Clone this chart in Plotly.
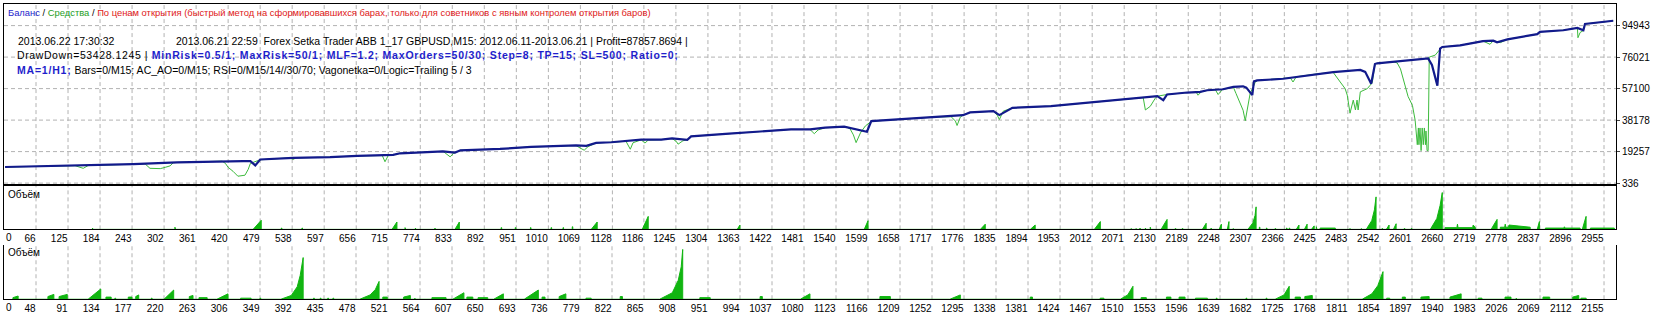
import plotly.graph_objects as go

# ---------------- data ----------------
# balance curve: trade number -> balance
bal_x = [9, 68, 171, 245, 326, 368, 448, 461, 470, 479, 540, 608, 658, 724, 737, 816, 838, 848,
         921, 978, 1021, 1061, 1080, 1098, 1126, 1153, 1181, 1218, 1238, 1266, 1273, 1343, 1415,
         1457, 1492, 1520, 1555, 1597, 1605, 1625, 1662, 1717, 1752, 1774, 1787, 1830, 1841, 1865,
         1936, 1979, 2027, 2106, 2132, 2143, 2150, 2187, 2211, 2224, 2253, 2272, 2290, 2296, 2307,
         2310, 2316, 2364, 2427, 2456, 2506, 2515, 2526, 2533, 2537, 2567, 2631, 2638, 2648, 2653,
         2657, 2690, 2732, 2751, 2758, 2777, 2832, 2837, 2880, 2906, 2917, 2920, 2948, 2972]
bal_y = [10000, 10390, 10980, 11750, 12750, 13170, 13520, 13520, 10980, 14530, 15530, 15890, 16720,
         17310, 18250, 19440, 18670, 20030, 20850, 22040, 22450, 23040, 22690, 24460, 24880, 25640,
         26410, 26410, 27240, 26350, 28420, 30020, 31620, 32620, 32620, 33630, 34220, 31200, 37590,
         38000, 38770, 39950, 40370, 41130, 42790, 43560, 41190, 45560, 46570, 47930, 49590, 51780,
         52550, 50180, 53550, 54740, 55150, 56100, 56690, 58110, 58460, 57690, 53140, 61420, 62010,
         63010, 65970, 66980, 68340, 67150, 60060, 71880, 72300, 73240, 75250, 71290, 58870, 81170,
         82110, 83110, 85660, 85900, 84890, 86670, 89800, 91220, 92160, 93580, 92160, 95950, 96890,
         97857]

# equity curve: trade number -> equity
eq_x = [9, 68, 138, 153, 162, 171, 245, 267, 276, 295, 304, 313, 319, 326, 368, 409, 415, 420, 429,
        438, 451, 457, 461, 475, 479, 534, 540, 545, 608, 658, 704, 709, 715, 724, 737, 816, 824,
        829, 835, 840, 848, 921, 978, 1021, 1061, 1069, 1076, 1083, 1098, 1126, 1153, 1161, 1166,
        1181, 1188, 1194, 1218, 1238, 1246, 1249, 1258, 1266, 1273, 1343, 1415, 1457, 1492, 1500,
        1507, 1520, 1559, 1566, 1572, 1577, 1585, 1594, 1605, 1625, 1662, 1717, 1752, 1760, 1763,
        1769, 1774, 1787, 1830, 1837, 1841, 1848, 1865, 1936, 1979, 2027, 2106, 2110, 2119, 2128,
        2132, 2150, 2187, 2204, 2207, 2213, 2224, 2239, 2244, 2252, 2272, 2277, 2285, 2290, 2294,
        2298, 2303, 2309, 2312, 2316, 2364, 2377, 2382, 2388, 2427, 2456, 2469, 2478, 2482, 2487,
        2493, 2497, 2500, 2502, 2506, 2519, 2524, 2528, 2533, 2537, 2567, 2574, 2580, 2585, 2589,
        2594, 2602, 2607, 2611, 2613, 2614, 2616, 2618, 2620, 2622, 2624, 2626, 2627, 2629, 2631,
        2633, 2644, 2653, 2657, 2690, 2732, 2745, 2751, 2764, 2777, 2832, 2837, 2880, 2906, 2907,
        2911, 2917, 2920, 2948, 2972]
eq_y = [10000, 10390, 10800, 9210, 10860, 10980, 11750, 11870, 9210, 9030, 9800, 10680, 12580,
        12750, 13170, 13520, 12160, 9800, 7430, 4470, 5070, 8610, 12160, 13930, 14350, 15530, 14530,
        15530, 15890, 16720, 16890, 13170, 16890, 17310, 18250, 19440, 17480, 16120, 18070, 18670,
        20030, 20850, 22040, 22450, 22920, 21330, 20090, 22210, 24460, 24880, 25470, 20680, 24580,
        26300, 24400, 26180, 26410, 27120, 25270, 23730, 25760, 26350, 28420, 30020, 31620, 32620,
        32560, 30020, 32270, 33630, 34160, 32860, 29310, 24640, 30490, 34630, 37470, 38000, 38770,
        39950, 40250, 37590, 34930, 39950, 41130, 42790, 43500, 41130, 38530, 43500, 45560, 46570,
        47930, 49590, 51660, 44270, 46460, 51190, 52550, 53550, 54740, 54740, 53140, 55150, 56100,
        56390, 53550, 56510, 57990, 54140, 48230, 44090, 37770, 45270, 54140, 58280, 60650, 61950,
        63010, 63600, 61060, 64200, 65970, 66860, 61060, 57100, 53140, 42320, 50180, 44270, 50180,
        44270, 55150, 57100, 59050, 60650, 71880, 72300, 73240, 72470, 68930, 63010, 58870, 52370,
        47050, 38180, 23400, 33450, 23400, 33450, 19850, 33450, 23400, 33450, 23400, 31670, 19850,
        19850, 76020, 77200, 80750, 82110, 83110, 85660, 83710, 85900, 84710, 86670, 89800, 91220,
        92160, 93470, 87670, 90800, 91990, 95950, 96890, 97857]

# volume (lots) for the upper volume pane, one list of (trade, lots) points per burst
vol1_bursts = [
    [(170, 0.3), (171, 0.3)], [(322, 0.5), (323, 0.5)], [(466, 0), (481, 2.1)],
    [(518, 0.3), (519, 0.3)], [(556, 0.3), (557, 0.3)], [(722, 0), (731, 1.7)],
    [(746, 0.4), (747, 0.4)], [(765, 0.3), (766, 0.3)], [(801, 0.3), (802, 0.3)],
    [(838, 0), (846, 1.7)], [(923, 0.4), (924, 0.4)], [(949, 0.4), (950, 0.4)],
    [(977, 0.4), (978, 0.4)], [(1015, 0.4), (1016, 0.4)], [(1037, 0.4), (1038, 0.4)],
    [(1054, 0.6), (1055, 0.6)], [(1089, 0), (1100, 1.7)], [(1183, 0), (1194, 3.0)],
    [(1358, 0), (1363, 1.0)], [(1592, 0), (1599, 2.0)], [(1806, 0), (1815, 1.2)],
    [(1898, 0), (1907, 1.0)], [(2016, 0), (2027, 1.8)], [(2084, 0.2), (2085, 0.2)],
    [(2093, 0.2), (2094, 0.2)], [(2100, 0.3), (2101, 0.3)], [(2110, 0.3), (2111, 0.3)],
    [(2119, 0.5), (2120, 0.5)], [(2139, 0), (2150, 2.3)], [(2165, 0.2), (2166, 0.2)],
    [(2178, 0.2), (2179, 0.2)], [(2215, 0), (2222, 1.4)], [(2231, 0.3), (2232, 0.3)],
    [(2246, 0), (2250, 1.2)], [(2261, 0), (2264, 1.8)], [(2272, 0.2), (2273, 0.2)],
    [(2299, 0), (2308, 1.5), (2312, 3.2), (2314, 5.2)], [(2320, 0.5), (2321, 0.5)],
    [(2333, 0.3), (2334, 0.3)], [(2349, 0.2), (2350, 0.2)], [(2370, 0.3), (2371, 0.3)],
    [(2375, 0.3), (2376, 0.3)], [(2388, 0), (2393, 1.0)], [(2403, 0), (2408, 1.2)],
    [(2416, 0), (2421, 0.8)], [(2425, 0.6), (2426, 0.6)], [(2432, 0.3), (2460, 0.3)],
    [(2487, 0.2), (2488, 0.2)], [(2508, 0.2), (2509, 0.2)],
    [(2517, 0), (2527, 2.0), (2532, 4.5), (2535, 7.5)], [(2546, 0.2), (2547, 0.2)],
    [(2554, 0), (2559, 1.0)], [(2567, 0), (2572, 1.3)], [(2587, 0.2), (2588, 0.2)],
    [(2600, 0.2), (2601, 0.2)], [(2635, 0), (2647, 2.5), (2653, 5.5), (2657, 8.5)],
    [(2662, 0.4), (2684, 0.4), (2685, 1.2), (2686, 0.4), (2713, 0.4), (2714, 1.0), (2718, 0.4)],
    [(2747, 0), (2758, 2.3)],
    [(2764, 0.5), (2772, 0.5), (2773, 1.2), (2774, 0.5), (2779, 0.5), (2780, 1.0), (2819, 0.5)],
    [(2832, 0), (2836, 1.8)], [(2847, 0.3), (2881, 0.3), (2882, 0.6), (2883, 0.3), (2911, 0.3)],
    [(2915, 0), (2922, 3.0)], [(2930, 0.3), (2974, 0.3)],
]

# volume (lots) for the lower volume pane (second report, its own trade numbering)
vol2_bursts = [
    [(17, 0.3), (24, 0.6)], [(64, 0.5), (72, 0.9)], [(79, 0.5), (90, 0.9)], [(118, 0), (135, 1.9)],
    [(142, 0.4), (149, 0.4)], [(154, 0.2), (155, 0.2)], [(172, 0.4), (177, 0.4)],
    [(182, 0.5), (186, 0.8)], [(203, 0.2), (204, 0.2)], [(220, 0), (233, 1.7)],
    [(254, 0.5), (259, 0.7)], [(267, 0.3), (278, 0.3)], [(291, 0), (306, 1.0)],
    [(323, 0.2), (337, 0.2)], [(349, 0.2), (350, 0.2)],
    [(377, 0), (391, 0.7), (399, 2.3), (403, 4.4), (407, 7.7)],
    [(421, 0.2), (422, 0.2)], [(430, 0.2), (431, 0.2)], [(440, 0.2), (441, 0.2)],
    [(447, 0.2), (448, 0.2)], [(483, 0), (497, 0.8), (504, 1.8), (509, 3.3)],
    [(514, 0.4), (520, 0.4)], [(542, 0.4), (551, 0.7)], [(557, 0.2), (558, 0.2)],
    [(580, 0.3), (599, 0.3)], [(608, 0), (623, 1.2)], [(627, 0.4), (635, 0.4)],
    [(642, 0.3), (655, 0.3)], [(663, 0), (676, 1.0)], [(704, 0), (723, 1.7)],
    [(728, 0.4), (732, 0.4)], [(751, 0.5), (760, 1.0)], [(787, 0.2), (794, 0.2)],
    [(833, 0.5), (836, 0.5)], [(886, 0), (903, 1.2), (911, 3.5), (915, 6.0), (917, 9.2)],
    [(940, 0.3), (954, 0.3)], [(1021, 0.5), (1024, 0.5)], [(1075, 0), (1088, 1.0)],
    [(1182, 0.5), (1196, 0.5)], [(1276, 0), (1290, 0.8)], [(1384, 0.4), (1387, 0.4)],
    [(1478, 0.2), (1483, 0.2)], [(1505, 0), (1515, 0.8), (1522, 2.4)],
    [(1533, 0.3), (1540, 0.3)], [(1567, 0.4), (1573, 0.4)], [(1584, 0.4), (1592, 0.4)],
    [(1606, 0.2), (1622, 0.2)], [(1634, 0.2), (1635, 0.2)], [(1674, 0.2), (1675, 0.2)],
    [(1701, 0.2), (1702, 0.2)], [(1713, 0), (1725, 0.8), (1732, 2.4)],
    [(1740, 0.4), (1747, 0.4)], [(1753, 0.5), (1763, 0.7)],
    [(1830, 0), (1843, 1.0), (1851, 2.5), (1858, 5.1)], [(1863, 0.2), (1867, 0.2)],
    [(1884, 0.4), (1888, 0.4)], [(1909, 0.4), (1920, 0.5)], [(1948, 0.4), (1963, 1.0)],
    [(1986, 0.2), (1991, 0.2)], [(2022, 0.4), (2030, 0.4)], [(2037, 0.2), (2038, 0.2)],
    [(2073, 0.4), (2082, 0.4)], [(2113, 0.4), (2121, 0.7)], [(2124, 0.2), (2131, 0.2)],
]

y_tick_vals = [336, 19257, 38178, 57100, 76021, 94943]
x1_labels = ["0", "66", "125", "184", "243", "302", "361", "420", "479", "538", "597", "656",
             "715", "774", "833", "892", "951", "1010", "1069", "1128", "1186", "1245", "1304",
             "1363", "1422", "1481", "1540", "1599", "1658", "1717", "1776", "1835", "1894",
             "1953", "2012", "2071", "2130", "2189", "2248", "2307", "2366", "2425", "2483",
             "2542", "2601", "2660", "2719", "2778", "2837", "2896", "2955"]
x2_labels = ["0", "48", "91", "134", "177", "220", "263", "306", "349", "392", "435", "478",
             "521", "564", "607", "650", "693", "736", "779", "822", "865", "908", "951", "994",
             "1037", "1080", "1123", "1166", "1209", "1252", "1295", "1338", "1381", "1424",
             "1467", "1510", "1553", "1596", "1639", "1682", "1725", "1768", "1811", "1854",
             "1897", "1940", "1983", "2026", "2069", "2112", "2155"]

legend_parts = ["Баланс", "Средства",
                "По ценам открытия (быстрый метод на сформировавшихся барах, только для советников с явным контролем открытия баров)"]
info_line1a = "2013.06.22 17:30:32"
info_line1b = "2013.06.21 22:59  Forex Setka Trader ABB 1_17 GBPUSD,M15: 2012.06.11-2013.06.21 | Profit=87857.8694 |"
info_line2a = "DrawDown=53428.1245 | "
info_line2b = "MinRisk=0.5/1; MaxRisk=50/1; MLF=1.2; MaxOrders=50/30; Step=8; TP=15; SL=500; Ratio=0;"
info_line3a = "MA=1/H1;"
info_line3b = " Bars=0/M15; AC_AO=0/M15; RSI=0/M15/14//30/70; Vagonetka=0/Logic=Trailing 5 / 3"
pane_title = "Объём"

# ---------------- styling ----------------
W, H = 1660, 321
FONT = "Tahoma, 'Liberation Sans', Arial, sans-serif"
BAL_C = "#121A8C"
EQ_C = "#3DBB3D"
VOL_C = "#11B511"
GRID_C = "#B2B2B2"
GRID_DASH = "4px,3px"
BLUE_TXT = "#1E1ECC"

X1_RANGE = [7.04, 2977.1]
X2_RANGE = [5.0, 2171.1]
Y_RANGE = [-256, 107952]
VOL_RANGE = [0, 10]

def px_x(p):
    return p / W

def px_y(p):
    return 1 - p / H

def burst_poly(bursts):
    xs, ys = [], []
    for b in bursts:
        xs.append(b[0][0]); ys.append(0)
        for x, v in b:
            xs.append(x); ys.append(v)
        xs.append(b[-1][0]); ys.append(0)
    return xs, ys

def vgrid(vals, yr):
    xs, ys = [], []
    for v in vals:
        xs += [v, v, None]; ys += [yr[0], yr[1], None]
    return xs, ys

def hgrid(vals, xr):
    xs, ys = [], []
    for v in vals:
        xs += [xr[0], xr[1], None]; ys += [v, v, None]
    return xs, ys

tick1 = [int(t) for t in x1_labels[1:]]
tick2 = [int(t) for t in x2_labels[1:]]

fig = go.Figure()
gline = dict(color=GRID_C, width=1, dash=GRID_DASH)

# dashed grid at the tick positions (drawn first, under the data)
gx, gy = vgrid(tick1, Y_RANGE)
hx, hy = hgrid(y_tick_vals, X1_RANGE)
fig.add_trace(go.Scatter(x=gx + hx, y=gy + hy, mode="lines", line=gline, xaxis="x", yaxis="y",
                         hoverinfo="skip"))
gx, gy = vgrid(tick1, VOL_RANGE)
fig.add_trace(go.Scatter(x=gx, y=gy, mode="lines", line=gline, xaxis="x2", yaxis="y2",
                         hoverinfo="skip"))
gx, gy = vgrid(tick2, VOL_RANGE)
fig.add_trace(go.Scatter(x=gx, y=gy, mode="lines", line=gline, xaxis="x3", yaxis="y3",
                         hoverinfo="skip"))

v1x, v1y = burst_poly(vol1_bursts)
v2x, v2y = burst_poly(vol2_bursts)

fig.add_trace(go.Scatter(x=eq_x, y=eq_y, mode="lines", line=dict(color=EQ_C, width=1),
                         xaxis="x", yaxis="y"))
fig.add_trace(go.Scatter(x=bal_x, y=bal_y, mode="lines", line=dict(color=BAL_C, width=2.2),
                         xaxis="x", yaxis="y"))
fig.add_trace(go.Scatter(x=v1x, y=v1y, mode="lines", fill="tozeroy", fillcolor=VOL_C,
                         line=dict(color=VOL_C, width=1), xaxis="x2", yaxis="y2"))
fig.add_trace(go.Scatter(x=v2x, y=v2y, mode="lines", fill="tozeroy", fillcolor=VOL_C,
                         line=dict(color=VOL_C, width=1), xaxis="x3", yaxis="y3"))

xdom = [px_x(4), px_x(1616)]
tfont = dict(size=10, family=FONT, color="black")

fig.update_layout(
    width=W, height=H, margin=dict(l=0, r=0, t=0, b=0),
    paper_bgcolor="white", plot_bgcolor="white", showlegend=False,
    xaxis=dict(domain=xdom, range=X1_RANGE, anchor="y", tickmode="array", tickvals=tick1,
               showticklabels=False, ticks="", zeroline=False, showline=True, mirror=True,
               linecolor="black", showgrid=False),
    yaxis=dict(domain=[px_y(187), px_y(4)], range=Y_RANGE, anchor="x", side="right",
               tickmode="array", tickvals=y_tick_vals, ticktext=[str(v) for v in y_tick_vals],
               ticks="outside", ticklen=3, zeroline=False, showgrid=False,
               showline=True, mirror=True, linecolor="black", tickfont=tfont),
    xaxis2=dict(domain=xdom, range=X1_RANGE, anchor="y2", tickmode="array", tickvals=tick1,
                ticktext=x1_labels[1:], ticklabelposition="outside left", ticks="",
                tickfont=tfont, zeroline=False, showline=True, mirror=True,
                linecolor="black", showgrid=False),
    yaxis2=dict(domain=[px_y(233), px_y(189)], range=VOL_RANGE, anchor="x2",
                showticklabels=False, ticks="", showgrid=False, zeroline=False,
                showline=True, mirror=True, linecolor="black"),
    xaxis3=dict(domain=xdom, range=X2_RANGE, anchor="y3", tickmode="array", tickvals=tick2,
                ticktext=x2_labels[1:], ticklabelposition="outside left", ticks="",
                tickfont=tfont, zeroline=False, showline=True, mirror=False,
                linecolor="black", showgrid=False),
    yaxis3=dict(domain=[px_y(304), px_y(249)], range=VOL_RANGE, anchor="x3",
                showticklabels=False, ticks="", showgrid=False, zeroline=False,
                showline=True, mirror=True, linecolor="black"),
)

ann = []
def text(xp, yp, s, size=10.5):
    ann.append(dict(x=px_x(xp), y=px_y(yp), xref="paper", yref="paper", text=s, showarrow=False,
                    xanchor="left", yanchor="middle", font=dict(family=FONT, size=size, color="black")))

legend_html = (f'<span style="color:{BLUE_TXT}">{legend_parts[0]}</span> / '
               f'<span style="color:#1E9E1E">{legend_parts[1]}</span> / '
               f'<span style="color:#E01818">{legend_parts[2]}</span>')
text(6, 13, legend_html, size=9.4)
text(16, 42, info_line1a)
text(174, 42, info_line1b)
text(15, 56, f'<span style="letter-spacing:0.6px">{info_line2a}</span>'
             f'<b><span style="color:{BLUE_TXT};letter-spacing:0.8px">{info_line2b}</span></b>')
text(15, 71, f'<b><span style="color:{BLUE_TXT};letter-spacing:0.8px">{info_line3a}</span></b>' + info_line3b)
text(6, 198, pane_title, size=10)
text(6, 257, pane_title, size=10)

# first ("0") labels sit at the left edge of each pane
ann.append(dict(x=X1_RANGE[0], y=px_y(241), xref="x2", yref="paper", text=x1_labels[0],
                showarrow=False, xanchor="left", yanchor="middle", font=tfont))
ann.append(dict(x=X2_RANGE[0], y=px_y(312), xref="x3", yref="paper", text=x2_labels[0],
                showarrow=False, xanchor="left", yanchor="middle", font=tfont))
fig.update_layout(annotations=ann)

fig.write_html("out.html")
